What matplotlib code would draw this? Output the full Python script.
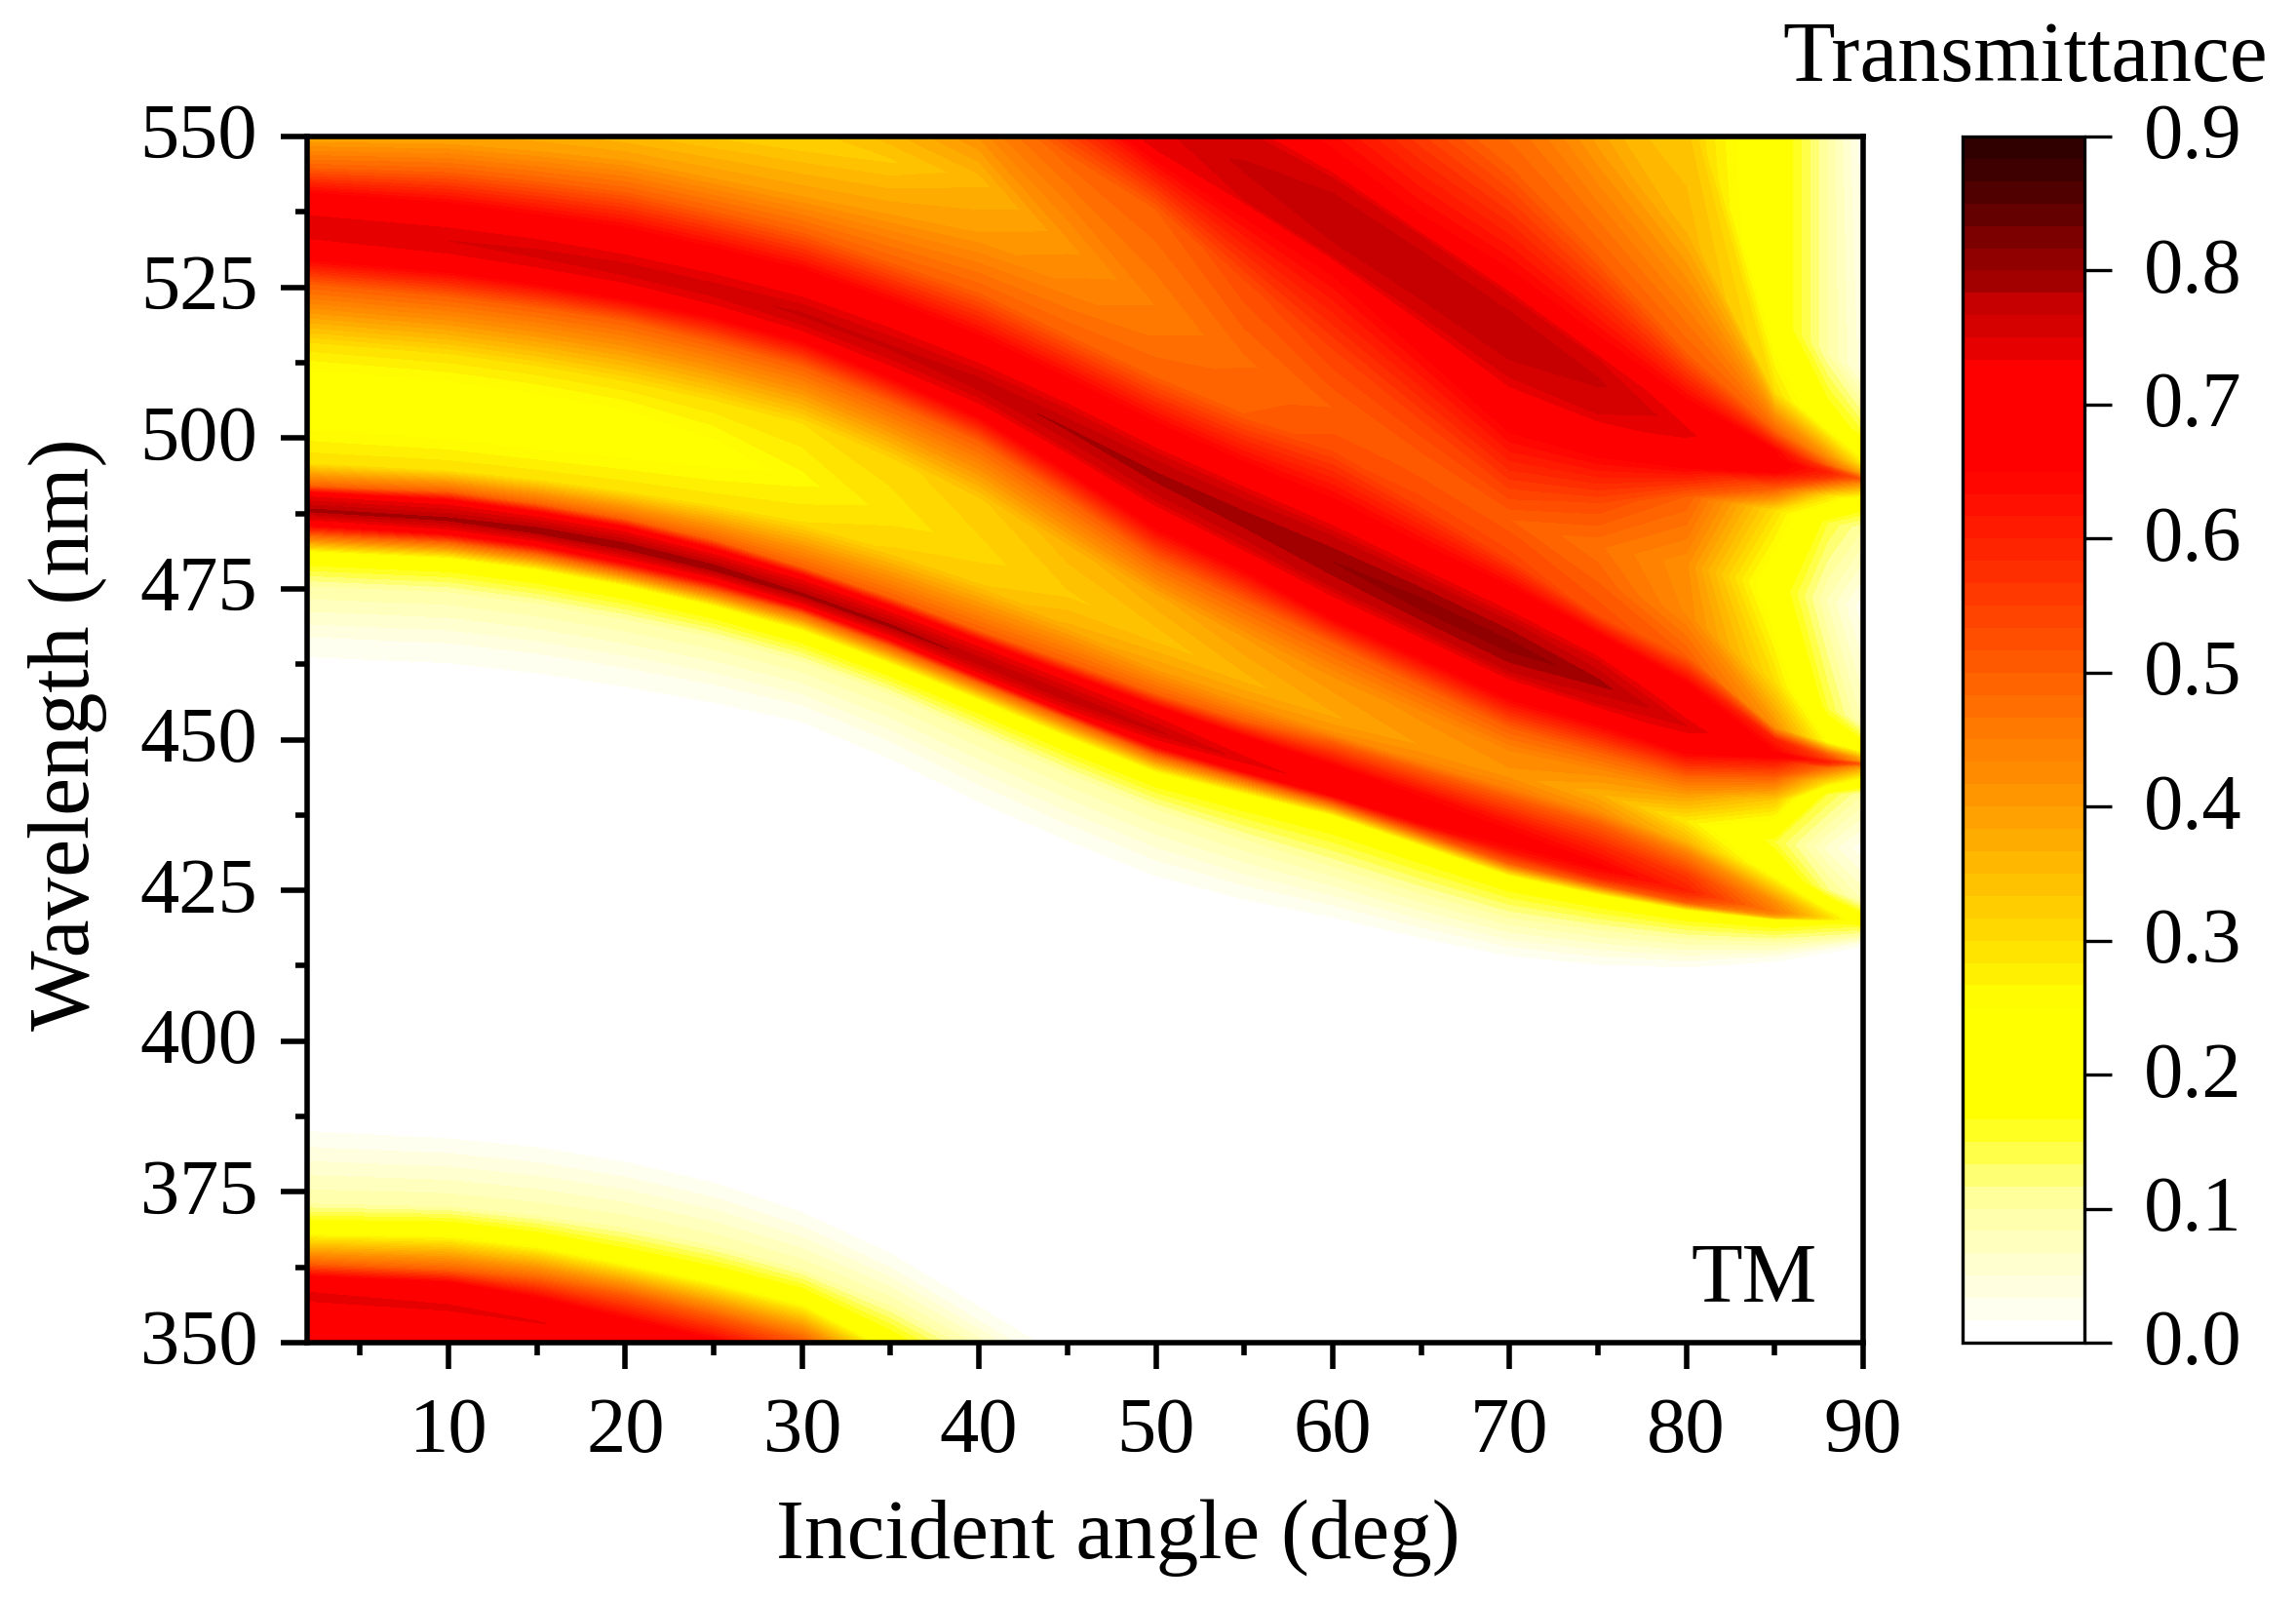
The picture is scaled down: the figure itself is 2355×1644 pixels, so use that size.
import matplotlib
matplotlib.use("Agg")
import matplotlib.pyplot as plt
import numpy as np
from matplotlib.colors import LinearSegmentedColormap
from matplotlib.ticker import MultipleLocator
from matplotlib.transforms import ScaledTranslation

plt.rcParams["font.family"] = ["Liberation Serif", "DejaVu Serif"]

# ==============================================================================
# Values. Each row follows one feature of the map across
# the angle axis: its wavelength (nm) and its transmittance at every angle.
# Rows that leave the 350-550 nm window are only there to close the grid.
# ==============================================================================
angle = [2, 10, 15, 20, 25, 30, 35, 40, 45, 50, 55, 60, 65, 70, 75, 80, 85, 88, 90]

rows = []


def addRow(wl, t):
    rows.append((wl, t))


# band at the bottom left
addRow([330, 328, 325, 320, 316, 312, 306, 300, 295, 290, 285, 280, 275, 270, 265, 260, 255, 252, 250], [.62] * 19)
addRow([350, 348, 345, 340, 336, 332, 326, 320, 312, 305, 300, 295, 290, 285, 280, 275, 270, 268, 266], [.66] * 19)
addRow([358, 356, 353.5, 350, 346, 342, 334, 326, 318, 310, 305, 300, 295, 290, 285, 280, 275, 273, 271],
       [.745, .74, .735, .72, .7, .7, .65, .65, .65, .65, .65, .65, .65, .65, .65, .65, .65, .65, .65])
addRow([361, 360, 357.5, 354, 350.5, 346, 338, 330, 323, 315, 310, 305, 300, 295, 290, 285, 280, 278, 276], [.65] * 19)
addRow([363, 362, 360.5, 358, 354.5, 350.5, 343, 336, 328, 320, 315, 310, 305, 300, 295, 290, 285, 283, 281], [.5] * 19)
addRow([369, 368.8, 367, 364, 361, 357.5, 350, 342, 333, 325, 320, 315, 310, 305, 300, 295, 290, 288, 286], [.2] * 19)
addRow([373, 372.5, 371, 369, 366, 362, 356, 348, 339, 330, 325, 320, 315, 310, 305, 300, 295, 293, 291], [.1] * 19)
addRow([384.7, 383.5, 382, 379.5, 376, 371, 364, 355, 346, 338, 331, 325, 320, 315, 310, 305, 300, 298, 296], [.017] * 19)
# empty gap
addRow([400] * 19, [0] * 19)
# first long band
addRow([465, 464, 462.3, 460, 457.3, 454, 447.8, 440.5, 434, 428, 424, 421, 417.5, 414.5, 413, 412.5, 413.5, 415, 416], [.017] * 19)
addRow([475.5, 474.5, 472.6, 470, 467, 463, 457.6, 451, 444.5, 438.5, 433.5, 429, 424.5, 420.5, 418.5, 417, 416.5, 417, 417.5], [.1] * 19)
addRow([480.6, 479.5, 477.6, 475, 471.6, 467.5, 462, 456, 449.8, 444, 440.5, 437, 432, 427, 424, 421.5, 420, 419.5, 419],
       [.2, .2, .2, .2, .2, .2, .2, .2, .2, .2, .2, .2, .2, .2, .2, .2, .2, .17, .15])
addRow([484, 482.8, 480.9, 478, 474.8, 471, 465.5, 459.5, 453.5, 447.5, 443.5, 439.5, 434.5, 429.5, 426, 423, 420.5, 420, 419.6],
       [.5, .5, .5, .5, .5, .5, .5, .5, .5, .5, .5, .5, .5, .5, .5, .5, .35, .24, .18])
addRow([486.4, 484.8, 482.9, 480, 476.8, 472.5, 467.2, 461, 455, 449.5, 445, 440.8, 436, 431.5, 427.2, 424, 421, 420.2, 419.8],
       [.73, .73, .73, .73, .73, .73, .73, .73, .73, .72, .69, .66, .64, .62, .6, .56, .42, .28, .2])
addRow([488, 486.5, 484.6, 482, 478.4, 474, 468.8, 463, 457, 451.5, 446.5, 442, 437.6, 433.5, 429, 425, 421.5, 420.5, 420],
       [.79, .79, .8, .8, .8, .79, .79, .78, .78, .77, .745, .72, .7, .68, .66, .6, .45, .3, .2])
addRow([490.4, 489, 487, 484.5, 480.8, 476.5, 471.2, 465.5, 459.8, 454.5, 449.8, 445.5, 441, 436.5, 432, 427.5, 423, 421.2, 420.3],
       [.73, .73, .73, .73, .73, .73, .73, .73, .73, .72, .69, .66, .64, .62, .6, .56, .42, .28, .2])
addRow([492, 491, 489, 486.5, 483, 478.5, 473.5, 468, 462.8, 457.5, 453, 449.5, 445, 440.5, 436, 431, 425.5, 422.5, 421],
       [.5, .5, .5, .5, .5, .5, .5, .5, .5, .5, .5, .5, .5, .5, .5, .45, .32, .22, .17])
addRow([495.7, 494.5, 493, 491, 488.7, 486, 481.2, 476, 468.8, 461.5, 456, 451, 446.2, 441.8, 438, 433, 428, 425, 423.5],
       [.3, .3, .3, .3, .3, .3, .32, .33, .37, .4, .41, .42, .44, .45, .42, .36, .22, .12, .08])
# trough under the second band
addRow([507, 505, 503, 501, 497.5, 493, 487.5, 481, 474, 467, 460, 454, 449, 444, 441, 436.5, 433, 432, 432],
       [.2, .2, .2, .21, .23, .26, .29, .31, .33, .34, .36, .38, .4, .41, .37, .28, .15, .06, .02])
# second long band
addRow([515.9, 514, 512, 509.5, 506.3, 502.5, 496.5, 490, 482, 474, 467, 460, 454, 448, 445, 441, 440, 441, 441],
       [.3, .3, .3, .3, .3, .3, .31, .33, .36, .38, .4, .41, .42, .43, .43, .4, .33, .15, .1])
addRow([525.6, 523.5, 521.7, 519.5, 516, 512, 506, 499.5, 490, 480, 473, 466, 459, 452, 448, 444, 443.8, 443, 443],
       [.5, .5, .5, .5, .5, .5, .5, .5, .5, .5, .5, .5, .5, .5, .5, .5, .5, .3, .22])
addRow([529.6, 527.5, 525.5, 523, 520, 516, 510, 503.5, 494.5, 485, 478, 470, 463.5, 456.7, 452.5, 447.7, 446.5, 445.4, 444.5],
       [.65, .65, .65, .65, .65, .65, .65, .65, .65, .65, .65, .65, .65, .65, .65, .65, .62, .48, .32])
addRow([533.4, 530.9, 528.6, 526, 522.4, 518, 512.2, 506, 498.2, 490, 482.5, 475.5, 468.5, 461.5, 456, 450.3, 447, 445.8, 445.5],
       [.74, .74, .74, .74, .74, .74, .74, .74, .75, .76, .76, .77, .77, .77, .75, .72, .65, .55, .4])
addRow([535, 532.7, 530.6, 528, 524.6, 520.5, 515, 509, 501.5, 493.5, 486.5, 479.5, 472.5, 465.5, 459.5, 452.3, 447.5, 446.3, 446],
       [.75, .75, .755, .76, .76, .77, .77, .78, .785, .79, .795, .8, .81, .81, .79, .75, .68, .6, .5])
addRow([536.6, 534.5, 532.6, 530, 526.8, 523, 517.8, 512, 504.8, 497, 490.5, 483.5, 476.5, 469.5, 463, 454.3, 448, 446.8, 446.3],
       [.74, .74, .74, .74, .74, .74, .74, .74, .75, .76, .76, .77, .77, .77, .75, .72, .65, .55, .4])
addRow([540.7, 539, 537, 534.9, 531.6, 528, 522.8, 517, 510, 502.6, 496, 490, 482.5, 475.5, 467.5, 459.5, 450, 447.5, 447],
       [.65, .65, .65, .65, .65, .65, .65, .65, .65, .65, .65, .65, .65, .65, .65, .65, .6, .5, .35])
addRow([544.7, 544, 542.5, 540.7, 537.5, 534, 529, 524, 517, 510, 504, 498, 489, 480, 470.5, 463.8, 451.9, 449.5, 448.5],
       [.5, .5, .5, .5, .5, .5, .5, .5, .5, .5, .5, .53, .54, .54, .53, .5, .42, .25, .2])
addRow([549, 548.7, 547.5, 546, 543, 540, 537, 534, 525, 516, 509, 502, 493, 484, 476, 470.8, 459.5, 455, 453],
       [.4, .4, .4, .4, .4, .4, .4, .4, .44, .47, .49, .51, .52, .52, .5, .43, .3, .15, .08])
# trough under the top band
addRow([558, 556, 554.5, 553, 551, 549, 546, 543, 532, 522, 513, 505, 495, 486.5, 482, 479, 475, 473, 472],
       [.33, .33, .33, .32, .32, .32, .33, .36, .41, .45, .48, .5, .5, .5, .47, .42, .2, .08, .02])
# top band
addRow([570, 568, 566.5, 565, 563, 561, 558, 555, 546.5, 538, 526, 514.8, 503, 491.6, 489, 490.4, 488, 486, 485],
       [.38, .38, .38, .38, .38, .38, .42, .46, .49, .5, .53, .55, .55, .55, .53, .5, .3, .15, .1])
addRow([590, 585, 582, 580, 577, 575, 570, 566, 556, 546, 536.5, 527, 514, 500.9, 496.8, 495, 491.6, 490.5, 489.5],
       [.45, .45, .45, .45, .47, .5, .55, .6, .63, .65, .65, .65, .65, .65, .65, .65, .5, .3, .2])
addRow([600, 595, 590, 585, 582, 580, 575, 570, 558, 548, 539.5, 530.6, 521, 511, 504, 498.5, 494.5, 493.4, 492.5],
       [.48, .48, .5, .52, .55, .58, .62, .66, .7, .74, .75, .76, .76, .76, .75, .72, .66, .56, .42])
addRow([620, 610, 605, 600, 595, 590, 582, 575, 564, 553, 545, 536.6, 527, 517, 509.4, 500.9, 496, 494.3, 493.2],
       [.5, .5, .52, .55, .58, .6, .64, .68, .72, .75, .77, .78, .78, .78, .77, .74, .68, .6, .5])
addRow([625, 615, 610, 605, 600, 595, 587, 580, 569, 558, 551, 542.6, 533, 523, 513, 503.5, 496.8, 495, 493.8],
       [.52, .52, .54, .56, .58, .6, .64, .66, .7, .74, .75, .76, .76, .76, .75, .72, .66, .56, .42])
addRow([640, 630, 625, 620, 615, 610, 602, 595, 582, 570, 558, 548, 537, 528, 517, 506.5, 498, 495.4, 494.2],
       [.55, .55, .55, .55, .58, .6, .63, .65, .65, .65, .65, .65, .65, .65, .65, .65, .65, .5, .37])
addRow([700, 690, 685, 680, 670, 660, 650, 640, 620, 600, 585, 570, 557, 545, 530, 514, 501, 496.8, 495.7],
       [.5, .5, .5, .5, .5, .5, .5, .5, .5, .5, .5, .5, .5, .5, .5, .5, .5, .42, .28])
addRow([750, 740, 735, 730, 720, 710, 695, 680, 650, 620, 605, 590, 580, 565, 548, 535, 507.5, 502.6, 500.9],
       [.4, .4, .4, .4, .4, .4, .4, .4, .4, .4, .4, .4, .4, .42, .4, .36, .3, .2, .15])
addRow([800, 790, 785, 780, 770, 760, 740, 720, 685, 650, 635, 620, 610, 600, 565, 555, 520, 514, 511],
       [.3, .3, .3, .3, .3, .3, .3, .3, .3, .3, .3, .3, .3, .34, .33, .33, .2, .1, .04])
addRow([900, 890, 885, 880, 870, 860, 840, 820, 785, 750, 735, 720, 710, 700, 660, 580, 560, 550, 550],
       [.25, .25, .25, .25, .25, .25, .25, .25, .25, .25, .25, .25, .25, .25, .25, .3, .2, .1, .02])

xTicks = [10, 20, 30, 40, 50, 60, 70, 80, 90]
yTicks = [350, 375, 400, 425, 450, 475, 500, 525, 550]
cTicks = [0.0, 0.1, 0.2, 0.3, 0.4, 0.5, 0.6, 0.7, 0.8, 0.9]

# colour stops
cmapStops = [
    (0.0, "#ffffff"),
    (0.1, "#ffffa0"),
    (0.167, "#ffff00"),
    (0.249, "#ffff00"),
    (0.3, "#ffdc00"),
    (0.346, "#ffbe00"),
    (0.4, "#ff9b00"),
    (0.5, "#ff5f00"),
    (0.6, "#ff2000"),
    (0.64, "#ff0a00"),
    (0.66, "#ff0000"),
    (0.735, "#ff0000"),
    (0.75, "#e00000"),
    (0.78, "#c80000"),
    (0.8, "#9e0000"),
    (0.82, "#8c0000"),
    (0.85, "#640000"),
    (0.88, "#400000"),
    (0.9, "#300000"),
]
cmap = LinearSegmentedColormap.from_list("trans", [(v / 0.9, c) for v, c in cmapStops], N=54)
levels = np.linspace(0, 0.9, 55)

fig = plt.figure(figsize=(23.55, 16.44), dpi=100)
figW, figH = 2355.0, 1644.0
ax = fig.add_axes([315 / figW, 1 - 1377 / figH, (1911 - 315) / figW, (1377 - 140) / figH])
cax = fig.add_axes([2013 / figW, 1 - 1377 / figH, (2138 - 2013) / figW, (1377 - 140) / figH])

wlGrid = np.array([r[0] for r in rows], dtype=float)
tGrid = np.array([r[1] for r in rows], dtype=float)
angleGrid = np.tile(np.array(angle, dtype=float), (len(rows), 1))

cs = ax.contourf(angleGrid, wlGrid, tGrid, levels=levels, cmap=cmap, vmin=0, vmax=0.9, antialiased=False)
ax.set_xlim(2, 90)
ax.set_ylim(350, 550)

ax.set_xticks(xTicks)
ax.set_yticks(yTicks)
ax.xaxis.set_minor_locator(MultipleLocator(5))
ax.yaxis.set_minor_locator(MultipleLocator(12.5))
ax.tick_params(axis="x", which="major", length=19.5, width=4, labelsize=58, pad=20.5)
ax.tick_params(axis="y", which="major", length=19.5, width=4, labelsize=58, pad=17)
ax.tick_params(which="minor", length=9, width=4)
for s in ax.spines.values():
    s.set_linewidth(4)
    s.set_zorder(5)

cb = fig.colorbar(cs, cax=cax)
cb.set_ticks(cTicks)
cb.ax.tick_params(length=20, width=2.4, labelsize=58, pad=23.5)
cb.outline.set_linewidth(2.4)
cb.ax.minorticks_off()

# tick labels sit a little higher than matplotlib centres them
raise_ = ScaledTranslation(0, 4 / 72, fig.dpi_scale_trans)
for lab in ax.get_yticklabels() + cb.ax.get_yticklabels():
    lab.set_transform(lab.get_transform() + raise_)

fig.text(1147 / figW, 1 - 1577 / figH, "Incident angle (deg)", ha="center", va="center", fontsize=62.7)
fig.text(70 / figW, 1 - 753 / figH, "Wavelength (nm)", ha="center", va="center", rotation=90, fontsize=63)
fig.text(1864 / figW, 1 - 1335 / figH, "TM", ha="right", va="baseline", fontsize=62)
fig.text(2326 / figW, 1 - 62 / figH, "Transmittance", ha="right", va="center", fontsize=63)

fig.savefig("out.png", dpi=100)
